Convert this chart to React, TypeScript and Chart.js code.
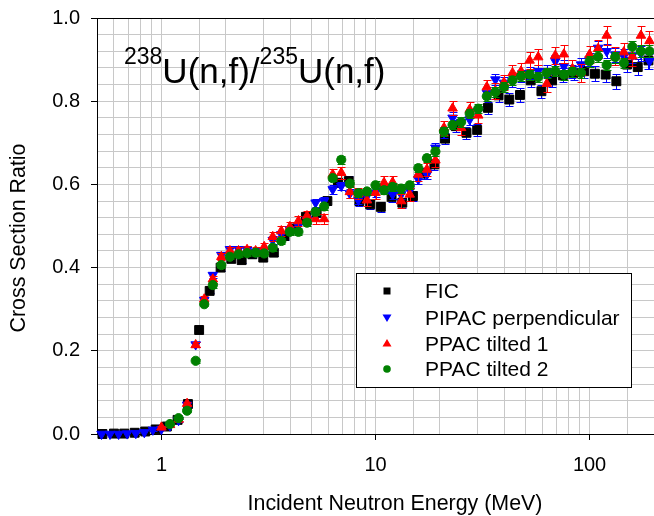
import React, { useEffect, useRef } from 'react';
import { Chart, registerables } from 'chart.js';

Chart.register(...registerables);

const FONT = "'Liberation Sans', Arial, Helvetica, sans-serif";

// Energies (MeV) of the PPAC / PIPAC bins
const PPAC_ENERGY = [
  0.525, 0.575, 0.631, 0.692, 0.759, 0.832, 0.912,
  1.0, 1.096, 1.202, 1.318, 1.445, 1.585, 1.738, 1.905, 2.089, 2.291,
  2.512, 2.754, 3.02, 3.311, 3.631, 3.981, 4.365, 4.786, 5.248, 5.754,
  6.31, 6.918, 7.586, 8.318, 9.12, 10.0, 10.96, 12.02, 13.18, 14.45,
  15.85, 17.38, 19.05, 20.89, 22.91, 25.12, 27.54, 30.2, 33.11, 36.31,
  39.81, 43.65, 47.86, 52.48, 57.54, 63.1, 69.18, 75.86, 83.18, 91.2,
  100.0, 109.6, 120.2, 131.8, 144.5, 158.5, 173.8, 190.5,
];

const PIPAC_RATIO = [
  0.0, 0.0, 0.0, 0.001, 0.002, 0.004, 0.01,
  0.012, 0.02, 0.033, 0.07, 0.215, 0.322, 0.382, 0.43, 0.444, 0.444,
  0.443, 0.438, 0.44, 0.466, 0.48, 0.492, 0.5, 0.515, 0.556, 0.56,
  0.588, 0.596, 0.578, 0.562, 0.572, 0.58, 0.59, 0.576, 0.576, 0.585,
  0.612, 0.624, 0.688, 0.724, 0.76, 0.75, 0.756, 0.776, 0.82, 0.852,
  0.844, 0.848, 0.86, 0.868, 0.872, 0.872, 0.896, 0.884, 0.872, 0.888,
  0.9, 0.928, 0.92, 0.912, 0.908, 0.91, 0.915, 0.896,
];
const PIPAC_ERR = [
  0, 0, 0, 0, 0, 0, 0.002,
  0.002, 0.003, 0.004, 0.005, 0.006, 0.006, 0.007, 0.007, 0.008, 0.008,
  0.008, 0.008, 0.008, 0.009, 0.009, 0.009, 0.009, 0.01, 0.01, 0.01,
  0.01, 0.01, 0.01, 0.01, 0.011, 0.011, 0.011, 0.011, 0.012, 0.012,
  0.012, 0.012, 0.012, 0.013, 0.013, 0.013, 0.013, 0.013, 0.014, 0.014,
  0.014, 0.014, 0.014, 0.015, 0.015, 0.015, 0.015, 0.015, 0.016, 0.016,
  0.016, 0.016, 0.017, 0.017, 0.017, 0.018, 0.018, 0.018,
];

const PPAC1_RATIO = [
  null, null, null, null, null, null, null,
  0.016, 0.022, 0.035, 0.073, 0.214, 0.324, 0.372, 0.426, 0.44, 0.44,
  0.443, 0.44, 0.45, 0.474, 0.488, 0.498, 0.512, 0.524, 0.517, 0.517,
  0.624, 0.628, 0.582, 0.578, 0.562, 0.58, 0.604, 0.605, 0.56, 0.576,
  0.624, 0.636, 0.658, 0.736, 0.783, 0.736, 0.78, 0.766, 0.834, 0.825,
  0.845, 0.868, 0.872, 0.898, 0.906, 0.842, 0.91, 0.913, 0.878, 0.868,
  0.912, 0.926, 0.958, 0.908, 0.918, 0.908, 0.958, 0.945,
];
const PPAC1_ERR = [
  0, 0, 0, 0, 0, 0, 0,
  0.003, 0.003, 0.004, 0.005, 0.006, 0.007, 0.008, 0.008, 0.009, 0.009,
  0.009, 0.01, 0.01, 0.011, 0.011, 0.012, 0.012, 0.013, 0.013, 0.013,
  0.014, 0.014, 0.014, 0.014, 0.015, 0.015, 0.015, 0.015, 0.016, 0.016,
  0.016, 0.016, 0.017, 0.017, 0.017, 0.018, 0.018, 0.018, 0.018, 0.019,
  0.019, 0.019, 0.019, 0.02, 0.02, 0.02, 0.02, 0.021, 0.021, 0.021,
  0.021, 0.022, 0.022, 0.022, 0.022, 0.023, 0.023, 0.023,
];

const PPAC2_RATIO = [
  null, null, null, null, null, null, null,
  null, 0.024, 0.038, 0.056, 0.176, 0.312, 0.358, 0.406, 0.426, 0.432,
  0.435, 0.436, 0.434, 0.448, 0.464, 0.486, 0.486, 0.508, 0.534, 0.547,
  0.615, 0.659, 0.602, 0.579, 0.583, 0.598, 0.586, 0.594, 0.59, 0.598,
  0.639, 0.663, 0.679, 0.727, 0.743, 0.75, 0.77, 0.782, 0.812, 0.822,
  0.834, 0.85, 0.86, 0.864, 0.858, 0.868, 0.872, 0.864, 0.871, 0.868,
  0.896, 0.907, 0.887, 0.906, 0.892, 0.931, 0.92, 0.92,
];
const PPAC2_ERR = [
  0, 0, 0, 0, 0, 0, 0,
  0, 0.002, 0.003, 0.004, 0.005, 0.005, 0.006, 0.006, 0.006, 0.006,
  0.007, 0.007, 0.007, 0.007, 0.007, 0.008, 0.008, 0.008, 0.008, 0.008,
  0.008, 0.009, 0.009, 0.009, 0.009, 0.009, 0.009, 0.009, 0.01, 0.01,
  0.01, 0.01, 0.01, 0.01, 0.01, 0.011, 0.011, 0.011, 0.011, 0.011,
  0.011, 0.011, 0.012, 0.012, 0.012, 0.012, 0.012, 0.012, 0.012, 0.013,
  0.013, 0.013, 0.013, 0.013, 0.013, 0.014, 0.014, 0.014,
];

// FIC (fission ionisation chamber) bins
const FIC_ENERGY = [
  0.53, 0.6, 0.67, 0.75, 0.84, 0.94, 1.06, 1.19, 1.33,
  1.5, 1.68, 1.89, 2.12, 2.37, 2.66, 2.99, 3.35, 3.76, 4.22, 4.73,
  5.31, 5.96, 6.68, 7.5, 8.41, 9.44, 10.59, 11.89, 13.34, 14.96,
  16.79, 18.84, 21.13, 23.71, 26.61, 29.85, 33.5, 37.58, 42.17, 47.32,
  53.09, 59.57, 66.83, 74.99, 84.14, 94.41, 105.9, 118.9, 133.4, 149.6,
  167.9, 188.4,
];
const FIC_RATIO = [
  0.0, 0.001, 0.001, 0.003, 0.006, 0.011, 0.018, 0.034, 0.072,
  0.25, 0.344, 0.4, 0.421, 0.418, 0.432, 0.424, 0.436, 0.476, 0.494, 0.522,
  0.532, 0.56, 0.604, 0.608, 0.56, 0.552, 0.546, 0.57, 0.556, 0.572,
  0.626, 0.648, 0.71, 0.74, 0.724, 0.731, 0.784, 0.814, 0.804, 0.815,
  0.85, 0.824, 0.85, 0.862, 0.868, 0.872, 0.866, 0.864, 0.848, 0.888,
  0.882, 0.898,
];
const FIC_ERR = [
  0, 0, 0, 0, 0, 0, 0.002, 0.003, 0.004,
  0.005, 0.006, 0.007, 0.007, 0.008, 0.008, 0.008, 0.009, 0.009, 0.009, 0.01,
  0.01, 0.01, 0.011, 0.011, 0.011, 0.011, 0.012, 0.012, 0.012, 0.012,
  0.013, 0.013, 0.013, 0.014, 0.014, 0.014, 0.015, 0.015, 0.015, 0.016,
  0.016, 0.016, 0.016, 0.017, 0.017, 0.017, 0.018, 0.018, 0.018, 0.019,
  0.019, 0.02,
];

const SERIES_LABELS = ['FIC', 'PIPAC perpendicular', 'PPAC tilted 1', 'PPAC tilted 2'];
const Y_TICKS_MAJOR = [0, 0.2, 0.4, 0.6, 0.8, 1.0];
const X_TICKS_MAJOR = [1, 10, 100];

const BLACK = '#000000';
const BLUE = '#0000ff';
const RED = '#ff0000';
const GREEN = '#008000';

function makePoints(xs: number[], ys: (number | null)[], es: number[]) {
  const pts: { x: number; y: number; e: number }[] = [];
  for (let i = 0; i < xs.length; i++) {
    const y = ys[i];
    if (y === null || y === undefined) continue;
    pts.push({ x: xs[i], y, e: es[i] || 0 });
  }
  return pts;
}

const errorBarsPlugin = {
  id: 'errorBars',
  beforeDatasetDraw(chart: any, args: any) {
    const ds = chart.data.datasets[args.index];
    const xs = chart.scales.x;
    const ys = chart.scales.y;
    const ca = chart.chartArea;
    const ctx = chart.ctx;
    ctx.save();
    ctx.beginPath();
    ctx.rect(ca.left, ca.top, ca.right - ca.left, ca.bottom - ca.top);
    ctx.clip();
    ctx.strokeStyle = ds.errorColor;
    ctx.lineWidth = 1;
    for (const p of ds.data) {
      if (!p.e) continue;
      const px = Math.round(xs.getPixelForValue(p.x)) + 0.5;
      const y1 = Math.round(ys.getPixelForValue(p.y + p.e)) + 0.5;
      const y2 = Math.round(ys.getPixelForValue(p.y - p.e)) + 0.5;
      ctx.beginPath();
      ctx.moveTo(px, y1);
      ctx.lineTo(px, y2);
      ctx.moveTo(px - 4, y1);
      ctx.lineTo(px + 4, y1);
      ctx.moveTo(px - 4, y2);
      ctx.lineTo(px + 4, y2);
      ctx.stroke();
    }
    ctx.restore();
  },
};

function drawMarker(ctx: CanvasRenderingContext2D, kind: string, x: number, y: number, color: string) {
  ctx.fillStyle = color;
  ctx.beginPath();
  if (kind === 'square') {
    ctx.rect(x - 3.5, y - 3.5, 7, 7);
  } else if (kind === 'down') {
    ctx.moveTo(x - 4.5, y - 3);
    ctx.lineTo(x + 4.5, y - 3);
    ctx.lineTo(x, y + 4.5);
    ctx.closePath();
  } else if (kind === 'up') {
    ctx.moveTo(x - 4.5, y + 3);
    ctx.lineTo(x + 4.5, y + 3);
    ctx.lineTo(x, y - 4.5);
    ctx.closePath();
  } else {
    ctx.arc(x, y, 3.8, 0, Math.PI * 2);
  }
  ctx.fill();
}

const decorPlugin = {
  id: 'decor',
  afterDraw(chart: any) {
    const ctx: CanvasRenderingContext2D = chart.ctx;
    const ca = chart.chartArea;
    ctx.save();
    // top frame line
    ctx.strokeStyle = '#000';
    ctx.lineWidth = 1;
    ctx.beginPath();
    ctx.moveTo(ca.left, Math.round(ca.top) + 0.5);
    ctx.lineTo(ca.right, Math.round(ca.top) + 0.5);
    ctx.stroke();

    ctx.fillStyle = '#000';
    ctx.textBaseline = 'alphabetic';
    ctx.textAlign = 'left';

    // Title 238U(n,f)/235U(n,f)
    let tx = 124;
    const supFont = `23px ${FONT}`;
    const mainFont = `35px ${FONT}`;
    const parts: [string, boolean][] = [['238', true], ['U(n,f)/', false], ['235', true], ['U(n,f)', false]];
    for (const [t, sup] of parts) {
      ctx.font = sup ? supFont : mainFont;
      ctx.fillText(t, tx, sup ? 64 : 83);
      tx += ctx.measureText(t).width;
    }

    // axis titles
    ctx.font = `21.4px ${FONT}`;
    ctx.textAlign = 'center';
    ctx.fillText('Incident Neutron Energy (MeV)', 395, 510);
    ctx.save();
    ctx.translate(25, 238);
    ctx.rotate(-Math.PI / 2);
    ctx.fillText('Cross Section Ratio', 0, 0);
    ctx.restore();

    // legend
    const lx = 356.5, ly = 273.5, lw = 275, lh = 114;
    ctx.fillStyle = '#fff';
    ctx.fillRect(lx, ly, lw, lh);
    ctx.strokeStyle = '#000';
    ctx.lineWidth = 1;
    ctx.strokeRect(lx, ly, lw, lh);
    const kinds = ['square', 'down', 'up', 'circle'];
    const colors = [BLACK, BLUE, RED, GREEN];
    const baselines = [298, 324.5, 350.5, 376];
    ctx.font = `21px ${FONT}`;
    ctx.textAlign = 'left';
    for (let i = 0; i < 4; i++) {
      drawMarker(ctx, kinds[i], 387, baselines[i] - 7, colors[i]);
      ctx.fillStyle = '#000';
      ctx.fillText(SERIES_LABELS[i], 425, baselines[i]);
    }
    ctx.restore();
  },
};

export default function App() {
  const ref = useRef<HTMLCanvasElement>(null);
  useEffect(() => {
    const canvas = ref.current;
    if (!canvas) return;
    const isMajorY = (v: number) => Y_TICKS_MAJOR.some((m) => Math.abs(m - v) < 1e-6);
    const isMajorX = (v: number) => X_TICKS_MAJOR.some((m) => Math.abs(m - v) < 1e-6);
    const chart = new Chart(canvas, {
      type: 'scatter',
      data: {
        datasets: [
          {
            label: SERIES_LABELS[0],
            data: makePoints(FIC_ENERGY, FIC_RATIO, FIC_ERR),
            pointStyle: 'rect',
            pointRadius: 6.3,
            backgroundColor: BLACK,
            borderColor: BLACK,
            borderWidth: 1,
            errorColor: BLUE,
            order: 3,
            clip: false,
          } as any,
          {
            label: SERIES_LABELS[1],
            data: makePoints(PPAC_ENERGY, PIPAC_RATIO, PIPAC_ERR),
            pointStyle: 'triangle',
            rotation: 180,
            pointRadius: 5.5,
            backgroundColor: BLUE,
            borderColor: BLUE,
            borderWidth: 1,
            errorColor: BLUE,
            order: 2,
            clip: false,
          } as any,
          {
            label: SERIES_LABELS[2],
            data: makePoints(PPAC_ENERGY, PPAC1_RATIO, PPAC1_ERR),
            pointStyle: 'triangle',
            rotation: 0,
            pointRadius: 5.5,
            backgroundColor: RED,
            borderColor: RED,
            borderWidth: 1,
            errorColor: RED,
            order: 1,
            clip: false,
          } as any,
          {
            label: SERIES_LABELS[3],
            data: makePoints(PPAC_ENERGY, PPAC2_RATIO, PPAC2_ERR),
            pointStyle: 'circle',
            pointRadius: 4.6,
            backgroundColor: GREEN,
            borderColor: GREEN,
            borderWidth: 1,
            errorColor: GREEN,
            order: 0,
            clip: false,
          } as any,
        ],
      },
      options: {
        responsive: false,
        animation: false,
        devicePixelRatio: 1,
        events: [],
        layout: { autoPadding: false, padding: { top: 18, left: 0, right: 0, bottom: 0 } },
        plugins: {
          legend: { display: false },
          tooltip: { enabled: false },
          title: { display: false },
        },
        scales: {
          x: {
            type: 'logarithmic',
            min: 0.5,
            max: 200,
            afterFit: (s: any) => {
              s.height = 82;
              s.paddingLeft = 0;
              s.paddingRight = 0;
              s.paddingTop = 0;
              s.paddingBottom = 0;
            },
            border: { display: true, color: '#000', width: 1 },
            grid: {
              color: '#c8c8c8',
              lineWidth: 1,
              drawTicks: true,
              tickLength: 6,
              tickColor: (c: any) => (c.tick && isMajorX(c.tick.value) ? '#000' : 'rgba(0,0,0,0)'),
            },
            ticks: {
              autoSkip: false,
              maxRotation: 0,
              minRotation: 0,
              padding: 13,
              color: '#000',
              font: { family: FONT, size: 20 },
              callback: (v: any) => (isMajorX(Number(v)) ? String(Math.round(Number(v))) : ''),
            },
          } as any,
          y: {
            type: 'linear',
            min: 0,
            max: 1,
            afterFit: (s: any) => {
              s.width = 97;
              s.paddingLeft = 0;
              s.paddingRight = 0;
              s.paddingTop = 0;
              s.paddingBottom = 0;
            },
            border: { display: true, color: '#000', width: 1 },
            grid: {
              color: '#c8c8c8',
              lineWidth: 1,
              drawTicks: true,
              tickLength: 6,
              tickColor: (c: any) => (c.tick && isMajorY(c.tick.value) ? '#000' : 'rgba(0,0,0,0)'),
            },
            ticks: {
              stepSize: 0.04,
              autoSkip: false,
              padding: 11,
              color: '#000',
              font: { family: FONT, size: 20 },
              callback: (v: any) => (isMajorY(Number(v)) ? Number(v).toFixed(1) : ''),
            },
          } as any,
        },
      },
      plugins: [errorBarsPlugin, decorPlugin],
    } as any);
    return () => chart.destroy();
  }, []);
  return (
    <div style={{ position: 'fixed', left: 0, top: 0, width: 654, height: 516, background: '#fff' }}>
      <canvas ref={ref} width={654} height={516} style={{ display: 'block', width: 654, height: 516 }} />
    </div>
  );
}
